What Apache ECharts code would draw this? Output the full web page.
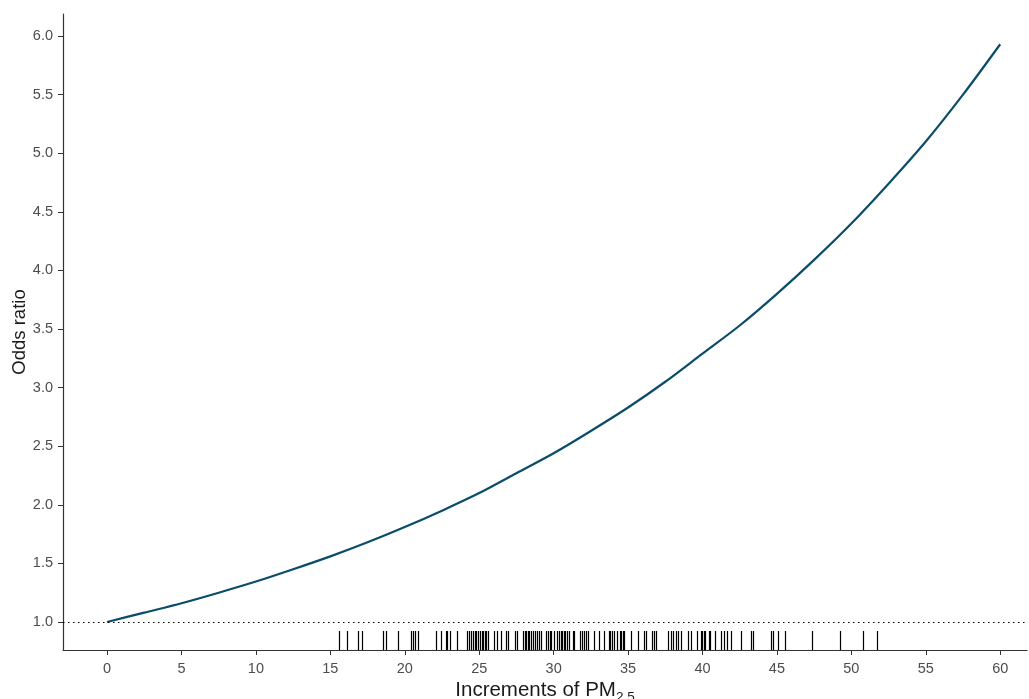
<!DOCTYPE html>
<html>
<head>
<meta charset="utf-8">
<script src="https://cdn.jsdelivr.net/npm/echarts@6/dist/echarts.min.js"></script>
<style>
html,body{margin:0;padding:0;background:#fff;}
#chart{width:1029px;height:699px;}
</style>
</head>
<body>
<div id="chart"></div>
<script>
// Curve: increments of PM2.5 vs odds ratio
const curveX = [0, 2.5, 5, 7.5, 10, 12.5, 15, 17.5, 20, 22.5, 25, 27.5, 30, 32.5, 35, 37.5, 40, 42.5, 45, 47.5, 50, 52.5, 55, 57.5, 60];
const curveOR = [1.00, 1.08, 1.16, 1.25, 1.345, 1.45, 1.56, 1.68, 1.81, 1.95, 2.10, 2.27, 2.44, 2.63, 2.83, 3.05, 3.29, 3.53, 3.80, 4.09, 4.40, 4.74, 5.10, 5.50, 5.93];

// Rug: observed increments
const rugX = [
  15.6, 16.1, 16.85, 17.15, 18.55, 18.75, 19.55, 20.4, 20.55, 20.7, 20.9,
  22.09, 22.46, 22.8, 22.87, 23.03, 23.54, 24.21, 24.32, 24.44, 24.59, 24.69, 24.79, 24.89, 25.04,
  25.16, 25.26, 25.36, 25.47, 25.57, 26.0, 26.2, 26.49, 26.83, 26.96, 27.39,
  27.55, 27.95, 28.05, 28.15, 28.25, 28.35, 28.46, 28.64, 28.78, 28.89, 29.05, 29.16, 29.5, 29.63,
  29.73, 29.83, 30.05, 30.22, 30.35, 30.47, 30.57, 30.67, 30.77, 30.89, 31.02, 31.29, 31.4, 31.78,
  31.92, 32.07, 32.18, 32.32, 32.74, 33.08, 33.41, 33.75,
  33.8, 33.93, 34.07, 34.29, 34.44, 34.54, 34.64, 34.74, 35.19, 35.7, 36.08, 36.22, 36.6, 36.75,
  36.87, 37.71, 37.88, 38.05, 38.23, 38.37, 38.55, 39.04, 39.21, 39.66, 39.89, 40.0,
  40.09, 40.2, 40.41, 40.52, 40.87, 41.26, 41.44, 41.66, 41.93, 42.62, 43.27, 43.37, 44.58, 44.71,
  45.08, 45.53, 47.35, 49.25, 50.77, 51.71
];

const xTicks = [0, 5, 10, 15, 20, 25, 30, 35, 40, 45, 50, 55, 60];
const yTicks = [1.0, 1.5, 2.0, 2.5, 3.0, 3.5, 4.0, 4.5, 5.0, 5.5, 6.0];
const refOR = 1;

const chart = echarts.init(document.getElementById('chart'), null, {renderer: 'canvas'});
const FONT = 'Liberation Sans, Arial, sans-serif';
const yMin = 0.761;

const option = {
  animation: false,
  backgroundColor: '#ffffff',
  grid: {left: 63, top: 14, right: 2, bottom: 49, containLabel: false, outerBoundsMode: 'none'},
  xAxis: {
    type: 'value',
    min: -2.96,
    max: 61.8,
    name: '{a|Increments of PM}{b|2.5}',
    nameLocation: 'middle',
    nameMoveOverlap: false,
    nameGap: 30,
    nameTextStyle: {
      rich: {
        a: {fontFamily: FONT, fontSize: 20.5, color: '#1a1a1a', lineHeight: 24, verticalAlign: 'top'},
        b: {fontFamily: FONT, fontSize: 13.5, color: '#1a1a1a', lineHeight: 24, verticalAlign: 'bottom', padding: [13, 0, 0, 0]}
      }
    },
    splitLine: {show: false},
    axisLine: {show: true, onZero: false, lineStyle: {color: '#333333', width: 1.2}},
    axisTick: {show: true, length: 5, customValues: xTicks, lineStyle: {color: '#333333', width: 1}},
    axisLabel: {customValues: xTicks, color: '#4d4d4d', fontSize: 14.5, fontFamily: FONT, margin: 11,
      formatter: v => String(v)}
  },
  yAxis: {
    type: 'value',
    min: yMin,
    max: 6.188,
    name: 'Odds ratio',
    nameLocation: 'middle',
    nameMoveOverlap: false,
    nameGap: 34,
    nameTextStyle: {fontFamily: FONT, fontSize: 18.5, color: '#1a1a1a'},
    splitLine: {show: false},
    axisLine: {show: true, onZero: false, lineStyle: {color: '#333333', width: 1.2}},
    axisTick: {show: true, length: 5, customValues: yTicks, lineStyle: {color: '#333333', width: 1}},
    axisLabel: {customValues: yTicks, color: '#4d4d4d', fontSize: 14.5, fontFamily: FONT, margin: 10,
      formatter: v => v.toFixed(1)}
  },
  series: [
    {
      type: 'line',
      data: curveX.map((x, i) => [x, curveOR[i]]),
      showSymbol: false,
      smooth: 0.3,
      lineStyle: {color: '#0a4d6a', width: 2.2},
      z: 3,
      markLine: {
        silent: true,
        symbol: 'none',
        label: {show: false},
        lineStyle: {color: '#000000', type: [1.5, 3.5], width: 1},
        data: [{yAxis: refOR}]
      }
    },
    {
      type: 'custom',
      data: rugX.map(x => [x]),
      renderItem: function (params, api) {
        const p = api.coord([api.value(0), yMin]);
        const x = Math.round(p[0]) + 0.5;
        return {
          type: 'line',
          shape: {x1: x, y1: p[1], x2: x, y2: p[1] - 19},
          style: {stroke: '#000000', lineWidth: 1.2}
        };
      },
      z: 2
    }
  ]
};
chart.setOption(option);
</script>
</body>
</html>
